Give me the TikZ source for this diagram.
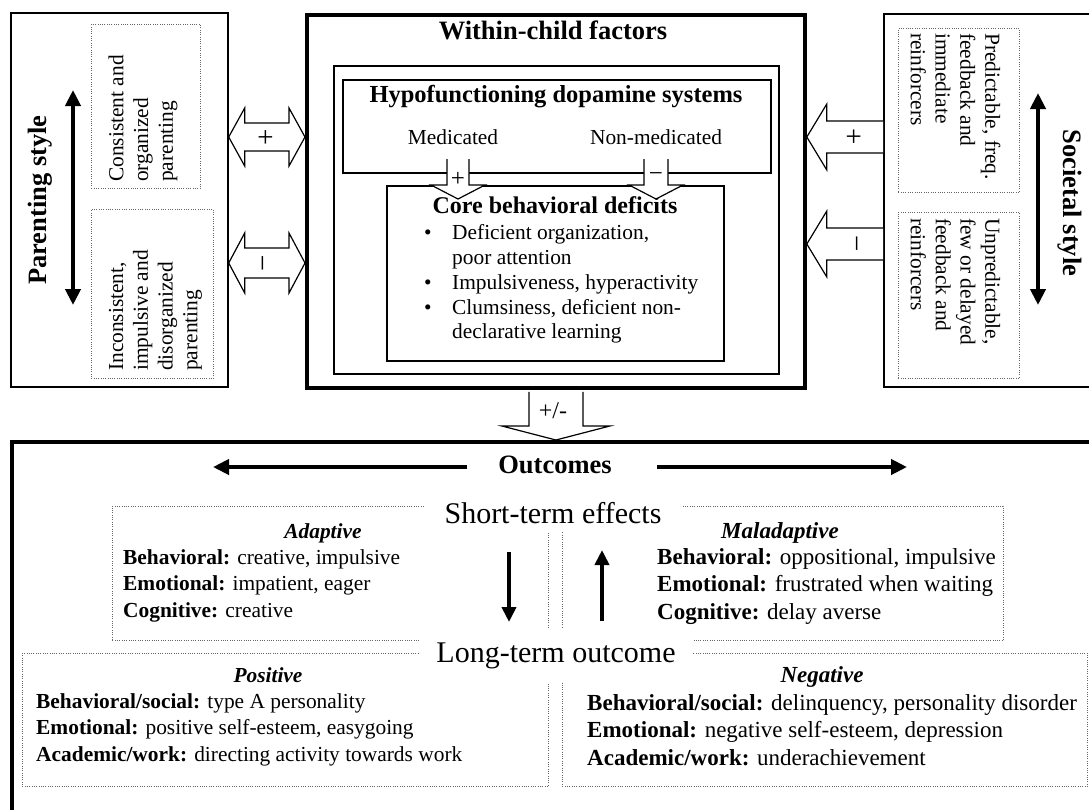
\documentclass[tikz,border=0pt]{standalone}
\usepackage{fontspec}
\setmainfont{Liberation Serif}
\usetikzlibrary{calc,arrows.meta}
\newcommand{\fsBody}{\fontsize{21.4}{24.8}\selectfont}
\newcommand{\fsBodyL}{\fontsize{21.4}{26.3}\selectfont}
\newcommand{\fsBodyR}{\fontsize{23}{27.5}\selectfont}
\newcommand{\fsTitle}{\fontsize{26.5}{30}\selectfont\bfseries}
\newcommand{\fsSub}{\fontsize{24.5}{28}\selectfont\bfseries}
\newcommand{\fsCore}{\fontsize{24}{28}\selectfont\bfseries}
\newcommand{\fsBig}{\fontsize{30}{34}\selectfont}
\newcommand{\fsSign}{\fontsize{29}{30}\selectfont}
\newcommand{\fsSignS}{\fontsize{25}{26}\selectfont}
% block arrows: tail, tip, half shaft, half head, head length
\newcommand{\blkDown}[5]{%
 \fill[white] let \p1=(#1), \p2=(#2) in (\x1-#3,\y1) -- (\x1-#3,\y2+#5) -- (\x1-#4,\y2+#5) -- (\x2,\y2) -- (\x1+#4,\y2+#5) -- (\x1+#3,\y2+#5) -- (\x1+#3,\y1) -- cycle;
 \draw[blk] let \p1=(#1), \p2=(#2) in (\x1-#3,\y1) -- (\x1-#3,\y2+#5) -- (\x1-#4,\y2+#5) -- (\x2,\y2) -- (\x1+#4,\y2+#5) -- (\x1+#3,\y2+#5) -- (\x1+#3,\y1);}
\newcommand{\blkLeft}[5]{%
 \fill[white] let \p1=(#1), \p2=(#2) in (\x1,\y1-#3) -- (\x2+#5,\y1-#3) -- (\x2+#5,\y1-#4) -- (\x2,\y2) -- (\x2+#5,\y1+#4) -- (\x2+#5,\y1+#3) -- (\x1,\y1+#3) -- cycle;
 \draw[blk] let \p1=(#1), \p2=(#2) in (\x1,\y1-#3) -- (\x2+#5,\y1-#3) -- (\x2+#5,\y1-#4) -- (\x2,\y2) -- (\x2+#5,\y1+#4) -- (\x2+#5,\y1+#3) -- (\x1,\y1+#3);}
\newcommand{\blkDouble}[5]{%
 \draw[blk,fill=white] let \p1=(#1), \p2=(#2) in (\x1,\y1) -- (\x1+#5,\y1+#4) -- (\x1+#5,\y1+#3) -- (\x2-#5,\y1+#3) -- (\x2-#5,\y1+#4) -- (\x2,\y2) -- (\x2-#5,\y1-#4) -- (\x2-#5,\y1-#3) -- (\x1+#5,\y1-#3) -- (\x1+#5,\y1-#4) -- cycle;}
\tikzset{
 frame/.style={draw, line width=1.7pt, inner sep=0pt, anchor=north west},
 thickframe/.style={draw, line width=3.8pt, inner sep=0pt, anchor=north west},
 dotframe/.style={draw=black!60, dash pattern=on 1pt off 1.3pt, line width=0.9pt, inner sep=0pt, anchor=north west},
 lbl/.style={inner sep=0pt, font=\fsBody},
 sign/.style={inner sep=0pt, font=\fsSign},
 signs/.style={inner sep=0pt, font=\fsSignS},
 blk/.style={line width=1.2pt, line join=miter},
 bigarrow/.style={line width=4pt, -{Triangle[length=16pt,width=15pt]}},
 bigdarrow/.style={line width=4pt, {Triangle[length=16pt,width=15pt]}-{Triangle[length=16pt,width=15pt]}},
 midarrow/.style={line width=4.5pt, -{Triangle[length=15pt,width=14pt]}},
 covertext/.style={font=\fsBig, fill=white, anchor=base},
}
\begin{document}
\begin{tikzpicture}[x=1pt,y=-1pt]
\useasboundingbox (0,0) rectangle (1089,809);
\clip (0,0) rectangle (1089,809);
\fill[white] (0,0) rectangle (1089,809);

% ---------- top boxes ----------
\node[frame, minimum width=217pt, minimum height=374pt] (LB) at (10,12) {};
\node[thickframe, minimum width=498pt, minimum height=373pt] (CB) at (305,13) {};
\node[frame, minimum width=230pt, minimum height=373pt] (RB) at (883,13) {};
\node[frame, minimum width=445pt, minimum height=308pt] (IF) at (333,65) {};
\node[frame, minimum width=428pt, minimum height=93pt] (HB) at (342,79) {};
\node[frame, minimum width=337pt, minimum height=175pt] (CD) at (386,185) {};

\node[dotframe, minimum width=109pt, minimum height=164pt] (LD1) at (91,24) {};
\node[dotframe, minimum width=122pt, minimum height=169pt] (LD2) at (91,209) {};
\node[dotframe, minimum width=121pt, minimum height=164pt] (RD1) at (898,28) {};
\node[dotframe, minimum width=121pt, minimum height=166pt] (RD2) at (898,212) {};

% ---------- texts of top part ----------
\node[font=\fsTitle, anchor=base, inner sep=0pt] (wcf) at (553,39) {Within-child factors};
\node[font=\fsSub, anchor=base, inner sep=0pt] (hypo) at (556,102) {Hypofunctioning dopamine systems};
\node[lbl, anchor=base] (med) at (453,144) {Medicated};
\node[lbl, anchor=base] (nonmed) at (656,144) {Non-medicated};
\node[font=\fsCore, anchor=base, inner sep=0pt] (core) at (555,213) {Core behavioral deficits};
\node[lbl, align=left, anchor=north west] (bul) at (424,224.5) {\makebox[28pt][l]{\textbullet}Deficient organization,\\\hspace*{28pt}poor attention\\\makebox[28pt][l]{\textbullet}Impulsiveness, hyperactivity\\\makebox[28pt][l]{\textbullet}Clumsiness, deficient non-\\\hspace*{28pt}declarative learning};

\node[lbl, rotate=90, font=\fsTitle] (ps) at (40,200) {Parenting style};
\node[lbl, rotate=90, align=left, anchor=west] (l1) at (143,182) {Consistent and\\organized\\parenting};
\node[lbl, rotate=90, align=left, anchor=west] (l2) at (155.5,371) {Inconsistent,\\impulsive and\\disorganized\\parenting};
\node[lbl, rotate=-90, font=\fsTitle] (ss) at (1070,203) {Societal style};
\node[lbl, rotate=-90, align=left, anchor=west] (r1) at (955.5,33) {Predictable, freq.\\feedback and\\immediate\\reinforcers};
\node[lbl, rotate=-90, align=left, anchor=west] (r2) at (955.5,218) {Unpredictable,\\few or delayed\\feedback and\\reinforcers};

\coordinate (psTop) at (73,90);
\coordinate (psBot) at (73,305);
\draw[bigdarrow] (psTop) -- (psBot);
\coordinate (ssTop) at (1038,93);
\coordinate (ssBot) at (1038,305);
\draw[bigdarrow] (ssTop) -- (ssBot);

% ---------- block arrows top ----------
\coordinate (dp1a) at (LB.east |- 0,137);
\coordinate (dp1b) at (CB.west |- 0,137);
\blkDouble{dp1a}{dp1b}{14pt}{29pt}{16pt}
\node[sign, rotate=90] (dp1l) at ($(dp1a)!0.5!(dp1b)$) {+};
\coordinate (dp2a) at (LB.east |- 0,263);
\coordinate (dp2b) at (CB.west |- 0,263);
\blkDouble{dp2a}{dp2b}{15pt}{30pt}{16pt}
\node[sign, rotate=90] (dp2l) at ($(dp2a)!0.5!(dp2b)$) {−};

\coordinate (ra1) at (RB.west |- 0,137);
\coordinate (rb1) at (CB.east |- 0,137);
\blkLeft{ra1}{rb1}{16pt}{33pt}{20pt}
\node[sign, rotate=-90] (r1l) at ($(ra1)+(-30,0)$) {+};
\coordinate (ra2) at (RB.west |- 0,244);
\coordinate (rb2) at (CB.east |- 0,244);
\blkLeft{ra2}{rb2}{16pt}{33pt}{20pt}
\node[sign, rotate=-90] (r2l) at ($(ra2)+(-30,0)$) {−};

\coordinate (mA) at (458,159);
\coordinate (mB) at (458,199);
\blkDown{mA}{mB}{11pt}{27pt}{14pt}
\node[signs] (mAl) at (458,179) {+};
\coordinate (nA) at (656,159);
\coordinate (nB) at (656,199);
\blkDown{nA}{nB}{12pt}{27pt}{14pt}
\node[signs] (nAl) at (656,177) {−};

% ---------- bottom box ----------
\node[draw, line width=4pt, inner sep=0pt, anchor=north west, minimum width=1100pt, minimum height=400pt] (BB) at (10,440) {};
\coordinate (pmA) at ($(CB.south)+(0,2)$);
\coordinate (pmB) at (BB.north -| CB.south);
\blkDown{pmA}{pmB}{27pt}{54pt}{14pt}
\node[inner sep=0pt, font=\fontsize{24}{26}\selectfont] (pml) at (553,411) {+/-};

\node[font=\fsTitle, anchor=base, inner sep=0pt] (out) at (555,473) {Outcomes};
\coordinate (outLs) at (467,467);
\coordinate (outLe) at (213,467);
\coordinate (outRs) at (657,467);
\coordinate (outRe) at (907,467);
\draw[bigarrow] (outLs) -- (outLe);
\draw[bigarrow] (outRs) -- (outRe);

\node[dotframe, minimum width=436pt, minimum height=134pt] (AD) at (112,506) {};
\node[dotframe, minimum width=441pt, minimum height=134pt] (MA) at (562,506) {};
\node[dotframe, minimum width=526pt, minimum height=133pt] (PO) at (22,653) {};
\node[dotframe, minimum width=525pt, minimum height=133pt] (NE) at (562,653) {};

\node[covertext, inner xsep=20pt, inner ysep=2pt, text depth=7pt] (ste) at (553,523) {Short-term effects};
\node[covertext, inner xsep=16pt, inner ysep=0pt, text height=34pt, text depth=20pt] (lto) at (556,662) {Long-term outcome};

\coordinate (dnA) at (509,552);
\coordinate (dnB) at (509,622);
\draw[midarrow] (dnA) -- (dnB);
\coordinate (upA) at (602,621);
\coordinate (upB) at (602,550);
\draw[midarrow] (upA) -- (upB);

\node[font=\fontsize{21.4}{25}\selectfont\bfseries\itshape, anchor=base, inner sep=0pt] (adT) at (323,538) {Adaptive};
\node[font=\fsBodyL, inner sep=0pt, align=left, anchor=north west] (adB) at (123,549.5) {\textbf{Behavioral:} creative, impulsive\\\textbf{Emotional:} impatient, eager\\\textbf{Cognitive:} creative};
\node[font=\fontsize{23}{27}\selectfont\bfseries\itshape, anchor=base, inner sep=0pt] (maT) at (780,538) {Maladaptive};
\node[font=\fsBodyR, inner sep=0pt, align=left, anchor=north west] (maB) at (657,548) {\textbf{Behavioral:} oppositional, impulsive\\\textbf{Emotional:} frustrated when waiting\\\textbf{Cognitive:} delay averse};
\node[font=\fontsize{21.4}{25}\selectfont\bfseries\itshape, anchor=base, inner sep=0pt] (poT) at (268,682) {Positive};
\node[font=\fsBodyL, inner sep=0pt, align=left, anchor=north west] (poB) at (36,693.5) {\textbf{Behavioral/social:} type A personality\\\textbf{Emotional:} positive self-esteem, easygoing\\\textbf{Academic/work:} directing activity towards work};
\node[font=\fontsize{23}{27}\selectfont\bfseries\itshape, anchor=base, inner sep=0pt] (neT) at (822,682) {Negative};
\node[font=\fsBodyR, inner sep=0pt, align=left, anchor=north west] (neB) at (587,694) {\textbf{Behavioral/social:} delinquency, personality disorder\\\textbf{Emotional:} negative self-esteem, depression\\\textbf{Academic/work:} underachievement};
\end{tikzpicture}
\end{document}
